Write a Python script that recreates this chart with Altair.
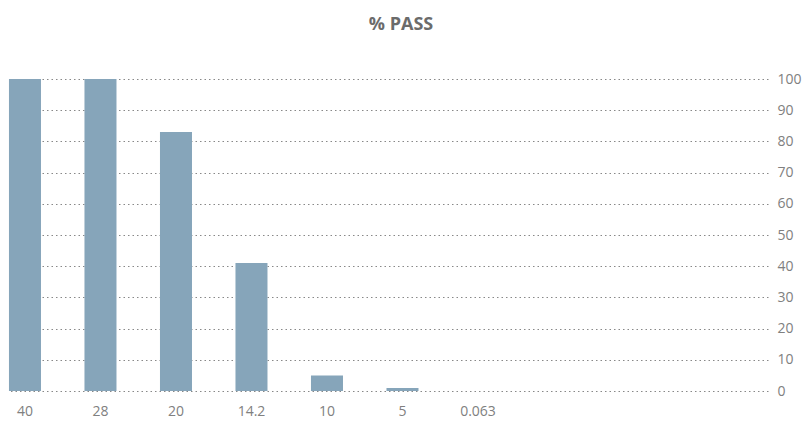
import altair as alt
import pandas as pd

sizes = ["40", "28", "20", "14.2", "10", "5", "0.063"]
pass_pct = [100, 100, 83, 41, 5, 1, 0]
spare_slots = ["_a", "_b", "_c"]

df = pd.DataFrame({"size": sizes, "pct": pass_pct})

pi = 0.576
po = 0.321
domain = sizes + spare_slots

chart = alt.Chart(df).mark_bar(color="#86A5BA").encode(
    x=alt.X("size:N", sort=sizes, title=None,
            scale=alt.Scale(domain=domain, paddingInner=pi, paddingOuter=po, align=0.02),
            axis=alt.Axis(labelAngle=0, ticks=False, domain=False, grid=False,
                          labelPadding=13, labelFontSize=14, labelColor="#808080",
                          labelFont="Open Sans",
                          labelExpr="slice(datum.value, 0, 1) == '_' ? '' : datum.label")),
    y=alt.Y("pct:Q", title=None,
            scale=alt.Scale(domain=[0, 100], nice=False),
            axis=alt.Axis(orient="right", values=list(range(0, 101, 10)), ticks=False,
                          domain=False, grid=True, gridDash=[1.5, 3], gridColor="#888888",
                          gridWidth=1, labelPadding=9, labelFontSize=14,
                          labelColor="#808080", labelFont="Open Sans",
                          labelAlign="left")),
).properties(
    width=760,
    height=312,
    title=alt.Title("% PASS", fontSize=18, fontWeight="bold", color="#6b6b6b",
                    font="Open Sans", offset=38, dx=13),
    autosize=alt.AutoSizeParams(type="none"),
    padding={"left": 0, "top": 71, "right": 35, "bottom": 27},
).configure_view(stroke=None)

chart.save("out.html", embed_options={"renderer": "svg", "actions": False})
